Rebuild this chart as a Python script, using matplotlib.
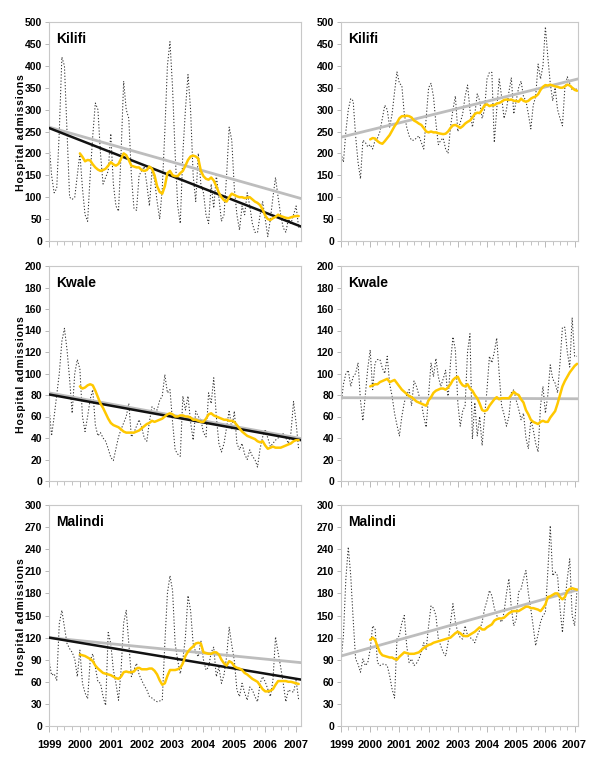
import matplotlib
matplotlib.use("Agg")
import matplotlib.pyplot as plt
from matplotlib import font_manager
import numpy as np

avail = {f.name for f in font_manager.fontManager.ttflist}
fam = [f for f in ["Liberation Sans Narrow", "Liberation Sans", "DejaVu Sans"] if f in avail]
plt.rcParams['font.family'] = fam

# ---------------- data (monthly, Jan 1999 .. Feb 2007) ----------------
year_labels = ["1999", "2000", "2001", "2002", "2003", "2004", "2005", "2006", "2007"]
panel_titles = ["Kilifi", "Kilifi", "Kwale", "Kwale", "Malindi", "Malindi"]
ylims = [500, 500, 200, 200, 300, 300]
ysteps = [50, 50, 20, 20, 30, 30]

kilifi_left = [225, 150, 110, 120, 250, 420, 400, 250, 100, 95, 100, 150,
               200, 120, 60, 45, 150, 240, 315, 300, 200, 130, 145, 160,
               245, 130, 80, 68, 200, 365, 300, 280, 150, 75, 70, 150,
               160, 170, 130, 80, 160, 140, 90, 50, 120, 250, 400, 455,
               350, 200, 80, 40, 200, 300, 380, 300, 150, 90, 200, 130,
               110, 60, 40, 130, 75, 150, 100, 45, 60, 150, 260, 230,
               120, 60, 25, 80, 60, 110, 80, 40, 20, 19, 60, 90,
               50, 10, 50, 100, 145, 100, 60, 30, 20, 50, 40, 60, 80, 30]
kilifi_left_ma = [200, 192, 182, 185, 184, 175, 168, 163, 160, 162, 165, 172,
                  180, 175, 172, 176, 188, 200, 196, 185, 172, 170, 168, 168,
                  162, 160, 162, 170, 165, 150, 125, 112, 108, 125, 155, 160,
                  150, 148, 148, 155, 160, 172, 185, 193, 195, 193, 188, 160,
                  148, 142, 140, 145, 138, 125, 110, 100, 93, 90, 100, 108,
                  105, 102, 100, 100, 98, 99, 100, 95, 90, 87, 82, 72,
                  58, 50, 48, 52, 55, 60, 57, 55, 53, 52, 54, 56, 57, 57]
kilifi_left_trend_black = [258, 33]
kilifi_left_trend_grey = [260, 97]

kilifi_right = [200, 180, 250, 300, 325, 320, 240, 180, 142, 230, 225, 215,
                220, 210, 230, 235, 250, 280, 310, 300, 260, 290, 340, 386,
                360, 355, 290, 260, 240, 230, 230, 235, 240, 225, 210, 280,
                350, 360, 330, 270, 220, 230, 235, 210, 200, 260, 300, 331,
                250, 270, 290, 330, 356, 300, 260, 290, 336, 320, 280, 300,
                370, 385, 385, 225, 300, 370, 330, 280, 300, 340, 373, 290,
                320, 350, 365, 330, 320, 290, 256, 310, 330, 404, 370, 400,
                489, 420, 360, 320, 350, 300, 280, 263, 350, 375, 360, 345, 350, 345]
kilifi_right_ma = [232, 235, 234, 228, 224, 222, 228, 235, 242, 252, 262, 270,
                   280, 285, 285, 286, 285, 282, 275, 272, 268, 265, 258, 250,
                   248, 250, 248, 248, 246, 245, 244, 245, 250, 258, 264, 265,
                   262, 258, 262, 268, 272, 275, 282, 290, 293, 292, 300, 310,
                   312, 308, 310, 310, 314, 315, 318, 322, 323, 322, 323, 320,
                   320, 318, 325, 320, 318, 320, 325, 328, 330, 335, 345, 352,
                   356, 355, 357, 355, 353, 352, 350, 350, 353, 357, 355, 350, 345, 343]
kilifi_right_trend_grey = [237, 370]

kwale_left = [70, 42, 60, 80, 100, 130, 142, 122, 95, 63, 100, 113,
              104, 60, 46, 60, 76, 85, 52, 42, 45, 40, 37, 30,
              22, 19, 30, 41, 48, 54, 60, 72, 41, 45, 51, 57,
              50, 40, 37, 55, 69, 67, 66, 75, 79, 99, 82, 85,
              55, 29, 25, 23, 79, 66, 79, 55, 38, 65, 60, 57,
              45, 41, 82, 72, 96, 60, 35, 27, 35, 50, 66, 48,
              65, 35, 29, 35, 25, 20, 29, 23, 20, 13, 30, 41,
              48, 40, 32, 35, 38, 40, 42, 44, 40, 35, 45, 74, 54, 29]
kwale_left_ma = [88, 86, 87, 89, 90, 89, 84, 78, 72, 68, 63, 58,
                 54, 52, 51, 50, 48, 46, 45, 45, 45, 45, 46, 47,
                 49, 51, 53, 54, 56, 55, 56, 57, 58, 60, 62, 63,
                 62, 60, 60, 61, 61, 60, 60, 59, 57, 57, 56, 55,
                 55, 58, 62, 63, 61, 60, 59, 58, 57, 57, 56, 56,
                 55, 52, 49, 46, 44, 42, 41, 40, 39, 37, 36, 37,
                 33, 30, 31, 32, 31, 31, 31, 32, 33, 34, 35, 37, 38, 38]
kwale_left_trend_black = [80.5, 38]
kwale_left_trend_grey = [82, 39.5]

kwale_right = [70, 90, 100, 103, 88, 97, 100, 110, 75, 56, 80, 105,
               122, 85, 110, 113, 113, 105, 100, 116, 90, 79, 63, 52,
               42, 60, 73, 80, 85, 70, 93, 88, 80, 73, 60, 50,
               80, 110, 97, 114, 97, 88, 95, 103, 76, 110, 134, 122,
               73, 51, 65, 70, 120, 137, 39, 73, 42, 60, 33, 60,
               85, 116, 110, 120, 133, 100, 70, 62, 51, 60, 82, 85,
               75, 67, 57, 63, 40, 30, 57, 48, 35, 27, 70, 88,
               63, 80, 108, 95, 91, 82, 110, 143, 143, 120, 106, 152, 116, 116]
kwale_right_ma = [88, 89, 90, 90, 92, 93, 94, 95, 92, 93, 94, 91,
                  88, 85, 83, 81, 79, 78, 76, 74, 73, 72, 71, 70,
                  75, 78, 82, 84, 85, 86, 86, 85, 87, 90, 94, 96,
                  97, 92, 89, 88, 90, 86, 84, 80, 77, 72, 66, 65,
                  66, 70, 73, 76, 78, 76, 77, 77, 77, 77, 80, 83,
                  81, 80, 76, 73, 66, 62, 57, 55, 54, 53, 55, 56,
                  55, 55, 59, 62, 65, 72, 80, 88, 93, 97, 101, 104, 107, 109]
kwale_right_trend_grey = [77.5, 76.5]

malindi_left = [89, 69, 71, 62, 139, 157, 134, 112, 105, 100, 91, 67,
                103, 58, 45, 37, 89, 98, 80, 60, 58, 40, 28, 127,
                112, 76, 58, 35, 76, 140, 157, 112, 67, 76, 85, 70,
                62, 55, 49, 40, 38, 35, 33, 34, 35, 112, 180, 204,
                184, 112, 89, 71, 90, 121, 177, 157, 112, 100, 94, 116,
                90, 76, 80, 100, 107, 67, 80, 58, 70, 94, 134, 110,
                89, 49, 40, 58, 45, 35, 53, 49, 40, 33, 58, 67,
                60, 50, 40, 62, 121, 100, 80, 58, 33, 49, 47, 46, 62, 35]
malindi_left_ma = [97, 96, 95, 93, 91, 88, 82, 78, 75, 72, 71, 70,
                   69, 67, 65, 64, 67, 73, 74, 73, 73, 74, 78, 79,
                   77, 77, 77, 78, 78, 75, 70, 62, 56, 58, 68, 76,
                   76, 76, 77, 79, 85, 95, 101, 105, 108, 112, 113, 112,
                   100, 99, 98, 98, 100, 100, 97, 90, 85, 82, 88, 86,
                   81, 79, 78, 76, 72, 70, 67, 64, 62, 60, 55, 50,
                   47, 47, 48, 50, 56, 61, 61, 61, 61, 60, 60, 59, 58, 57]
malindi_left_trend_black = [120, 63]
malindi_left_trend_grey = [120, 86]

malindi_right = [88, 123, 200, 243, 204, 145, 91, 84, 73, 91, 82, 86,
                 104, 136, 132, 86, 82, 84, 84, 82, 68, 50, 38, 118,
                 123, 140, 150, 109, 86, 91, 82, 85, 91, 100, 113, 104,
                 136, 163, 160, 150, 118, 109, 100, 95, 113, 140, 166, 141,
                 127, 120, 118, 136, 123, 120, 118, 113, 123, 130, 141, 159,
                 170, 184, 177, 160, 150, 145, 141, 154, 180, 200, 160, 136,
                 145, 182, 186, 200, 211, 180, 159, 135, 109, 125, 141, 150,
                 154, 210, 272, 204, 209, 204, 160, 127, 168, 200, 227, 150, 136, 186]
malindi_right_ma = [117, 120, 117, 108, 100, 96, 95, 94, 93, 93, 91, 90,
                    94, 97, 100, 99, 98, 98, 98, 99, 100, 103, 106, 108,
                    110, 111, 113, 114, 115, 116, 117, 118, 119, 120, 123, 126,
                    128, 126, 123, 122, 122, 124, 126, 128, 131, 134, 131, 131,
                    134, 136, 138, 143, 145, 146, 146, 147, 150, 153, 155, 156,
                    156, 156, 158, 160, 162, 162, 160, 160, 159, 158, 156, 160,
                    165, 175, 176, 178, 180, 180, 175, 172, 175, 183, 186, 187, 186, 185]
malindi_right_trend_grey = [95, 185]

panels = [
    (kilifi_left, kilifi_left_ma, kilifi_left_trend_black, kilifi_left_trend_grey),
    (kilifi_right, kilifi_right_ma, None, kilifi_right_trend_grey),
    (kwale_left, kwale_left_ma, kwale_left_trend_black, kwale_left_trend_grey),
    (kwale_right, kwale_right_ma, None, kwale_right_trend_grey),
    (malindi_left, malindi_left_ma, malindi_left_trend_black, malindi_left_trend_grey),
    (malindi_right, malindi_right_ma, None, malindi_right_trend_grey),
]

# ---------------- layout ----------------
W, H = 600, 767
fig = plt.figure(figsize=(W / 100, H / 100), dpi=100)

col_x = [(49, 301, 97.9), (341, 578, 97.4)]      # left, right px, months shown
row_y = [(22, 241), (266, 481), (505, 726)]       # top, bottom px

TICKC = '#b8b8b8'
YELLOW = '#FFC800'
ylab = "\u200a".join("Hospital") + "\u2009\u2009" + "\u200a".join("admissions")

for idx, (raw, ma, tb, tg) in enumerate(panels):
    r, c = divmod(idx, 2)
    x0, x1, mspan = col_x[c]
    yt, yb = row_y[r]
    ax = fig.add_axes([x0 / W, 1 - yb / H, (x1 - x0) / W, (yb - yt) / H])

    n = len(raw)
    months = np.arange(n)
    ax.plot(months, raw, color='#333333', lw=0.75, linestyle=(0, (1.2, 1.8)), zorder=2)
    ma_x = np.arange(12, 12 + len(ma))
    ax.plot(ma_x, ma, color=YELLOW, lw=1.8, zorder=4, solid_capstyle='round')
    ax.plot([0, mspan], tg, color='#bdbdbd', lw=2.0, zorder=3)
    if tb is not None:
        ax.plot([0, mspan], tb, color='#111111', lw=1.8, zorder=3)

    ax.set_xlim(0, mspan)
    ax.set_ylim(0, ylims[idx])
    ax.set_yticks(np.arange(0, ylims[idx] + 1, ysteps[idx]))
    ax.set_xticks(np.arange(0, 97, 12))
    ax.set_xticks(np.arange(0, 98, 3), minor=True)
    if r == 2:
        ax.set_xticklabels(year_labels)
    else:
        ax.set_xticklabels([])
    for s in ax.spines.values():
        s.set_color('#c8c8c8')
        s.set_linewidth(0.8)
    ax.tick_params(axis='y', length=3, width=0.7, color=TICKC, pad=2,
                   labelsize=7.5)
    ax.tick_params(axis='x', which='major', length=4, width=0.7, color=TICKC,
                   pad=6, labelsize=8)
    ax.tick_params(axis='x', which='minor', length=3, width=0.6, color=TICKC)
    for lab in ax.get_yticklabels() + ax.get_xticklabels():
        lab.set_fontweight('bold')

    ax.text(0.03, 0.955, panel_titles[idx], transform=ax.transAxes,
            fontsize=10, fontweight='bold', va='top', ha='left')

    if c == 0:
        fig.text(21 / W, 1 - ((yt + yb) / 2 + 1) / H, ylab,
                 rotation=90, fontsize=7.5, fontweight='bold',
                 ha='center', va='center')

fig.savefig("out.png", dpi=100)
